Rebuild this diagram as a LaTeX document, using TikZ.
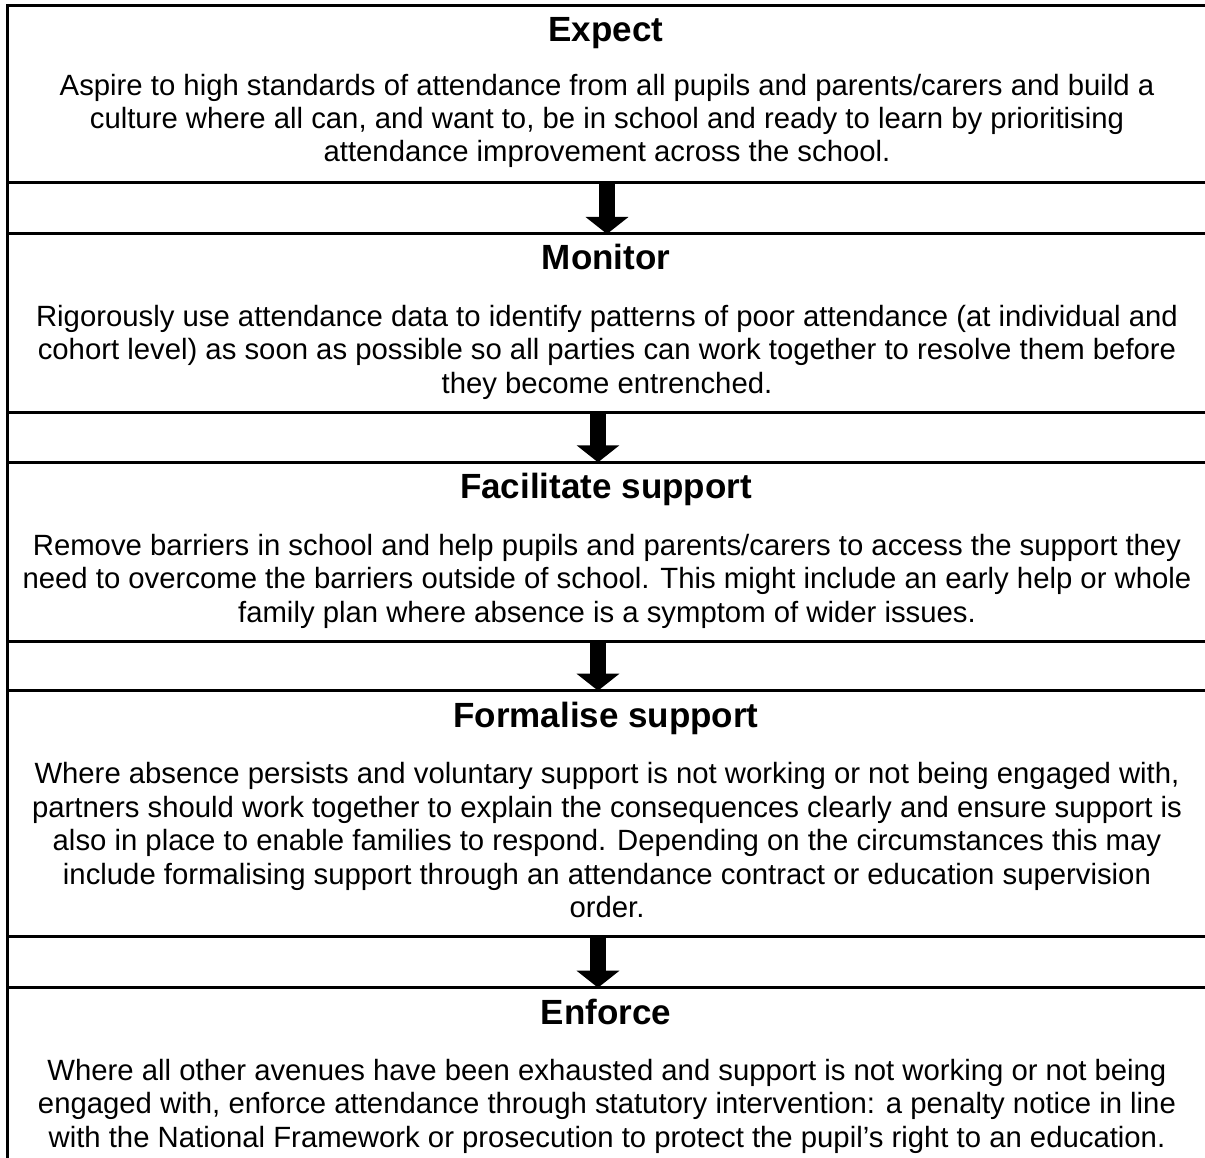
\documentclass[tikz,border=0pt]{standalone}
\usepackage{fontspec}
\setmainfont{Liberation Sans}
\usetikzlibrary{arrows.meta}
\begin{document}
\begin{tikzpicture}[x=1pt,y=-1pt,
  rule/.style={line width=3pt},
  ttl/.style={font=\fontsize{35}{40}\selectfont\bfseries, anchor=base, inner sep=0pt},
  body/.style={font=\fontsize{29.3}{33.4}\selectfont, align=center, anchor=base, inner sep=0pt},
  blockarrow/.style={line width=16pt, -{Triangle[width=42pt,length=17pt]}}]
\useasboundingbox (0,0) rectangle (1205,1158);
% frame lines
\draw[rule] (7.5,4.2) -- (7.5,1158);
\foreach \yy in {5.7,182.7,234,412.3,462.3,641.3,690.7,936.7,987.7}
  \draw[rule] (6,\yy) -- (1205,\yy);
% titles
\node[ttl] (t1) at (606,41.5) {Expect};
\node[ttl] (t2) at (606,270) {Monitor};
\node[ttl] (t3) at (606,498.5) {Facilitate support};
\node[ttl] (t4) at (606,727.5) {Formalise support};
\node[ttl] (t5) at (606,1024) {Enforce};
% bodies (anchor base = last line)
\node[body] (b1) at (607,162) {Aspire to high standards of attendance from all pupils and parents/carers and build a\\culture where all can, and want to, be in school and ready to learn by prioritising\\attendance improvement across the school.};
\node[body] (b2) at (607,393) {Rigorously use attendance data to identify patterns of poor attendance (at individual and\\cohort level) as soon as possible so all parties can work together to resolve them before\\they become entrenched.};
\node[body] (b3) at (607,622) {Remove barriers in school and help pupils and parents/carers to access the support they\\need to overcome the barriers outside of school. This might include an early help or whole\\family plan where absence is a symptom of wider issues.};
\node[body] (b4) at (607,917.5) {Where absence persists and voluntary support is not working or not being engaged with,\\partners should work together to explain the consequences clearly and ensure support is\\also in place to enable families to respond. Depending on the circumstances this may\\include formalising support through an attendance contract or education supervision\\order.};
\node[body] (b5) at (607,1147) {Where all other avenues have been exhausted and support is not working or not being\\engaged with, enforce attendance through statutory intervention: a penalty notice in line\\with the National Framework or prosecution to protect the pupil’s right to an education.};
% arrows
\coordinate (a1s) at (607,182.7); \coordinate (a1e) at (607,234);
\coordinate (a2s) at (598,412.3); \coordinate (a2e) at (598,462.3);
\coordinate (a3s) at (598,641.3); \coordinate (a3e) at (598,690.7);
\coordinate (a4s) at (598,936.7); \coordinate (a4e) at (598,987.7);
\draw[blockarrow] (a1s) -- (a1e);
\draw[blockarrow] (a2s) -- (a2e);
\draw[blockarrow] (a3s) -- (a3e);
\draw[blockarrow] (a4s) -- (a4e);
\end{tikzpicture}
\end{document}
